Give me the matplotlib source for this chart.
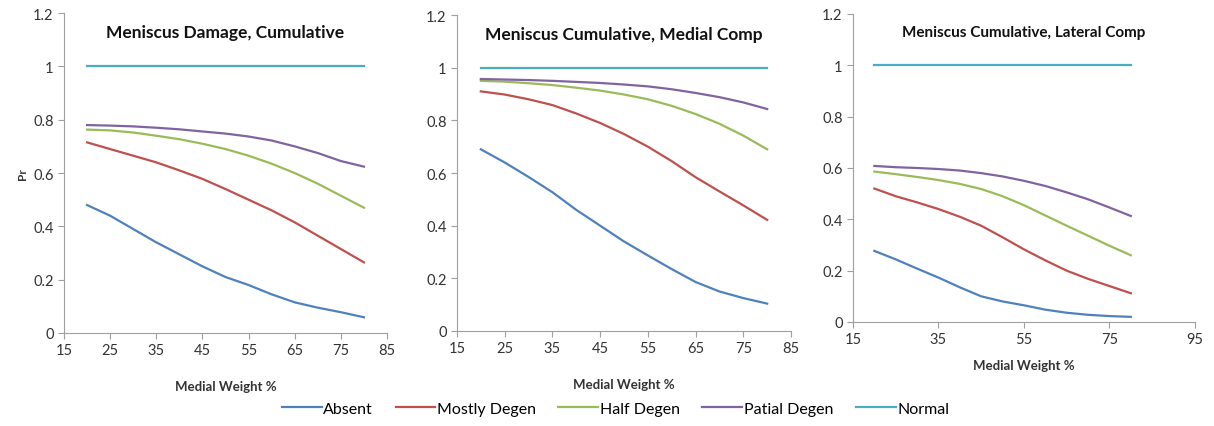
import matplotlib
matplotlib.use('Agg')
import matplotlib.pyplot as plt

# Medial weight % sampled along each curve
weight = [20, 25, 30, 35, 40, 45, 50, 55, 60, 65, 70, 75, 80]

series_names = ['Absent', 'Mostly Degen', 'Half Degen', 'Patial Degen', 'Normal']
colors = ['#4F81BD', '#C0504D', '#9BBB59', '#8064A2', '#4BACC6']

# Panel 1: Meniscus Damage, Cumulative
cum_absent = [.48, .44, .39, .34, .295, .25, .21, .18, .145, .115, .095, .078, .059]
cum_mostly = [.715, .69, .665, .64, .61, .578, .54, .50, .46, .415, .365, .315, .265]
cum_half = [.763, .76, .752, .74, .727, .71, .69, .665, .635, .60, .56, .515, .47]
cum_patial = [.78, .778, .775, .77, .764, .756, .748, .737, .722, .70, .675, .645, .624]

# Panel 2: Meniscus Cumulative, Medial Comp
med_absent = [.69, .64, .585, .527, .46, .40, .34, .287, .235, .186, .15, .125, .104]
med_mostly = [.91, .898, .88, .858, .826, .79, .748, .70, .645, .584, .53, .477, .422]
med_half = [.95, .947, .941, .934, .924, .913, .898, .88, .855, .824, .787, .742, .69]
med_patial = [.957, .955, .953, .95, .946, .942, .936, .929, .918, .904, .888, .868, .843]

# Panel 3: Meniscus Cumulative, Lateral Comp
lat_absent = [.277, .244, .208, .173, .135, .10, .08, .065, .048, .036, .028, .023, .02]
lat_mostly = [.52, .49, .466, .44, .41, .375, .33, .283, .24, .20, .168, .14, .112]
lat_half = [.586, .576, .565, .553, .538, .518, .49, .455, .415, .375, .336, .297, .26]
lat_patial = [.608, .603, .60, .596, .59, .58, .567, .55, .53, .505, .478, .446, .413]

normal = [1.0] * len(weight)

plt.rcParams['font.family'] = ['Lato', 'DejaVu Sans']

fig = plt.figure(figsize=(12.14, 4.27), dpi=100)

panels = [
    ('Meniscus Damage, Cumulative', [cum_absent, cum_mostly, cum_half, cum_patial, normal],
     [0.0527, 0.2178, 0.2661, 0.7492], [15, 25, 35, 45, 55, 65, 75, 85], 12.5),
    ('Meniscus Cumulative, Medial Comp', [med_absent, med_mostly, med_half, med_patial, normal],
     [0.3764, 0.2225, 0.2752, 0.7400], [15, 25, 35, 45, 55, 65, 75, 85], 12.5),
    ('Meniscus Cumulative, Lateral Comp', [lat_absent, lat_mostly, lat_half, lat_patial, normal],
     [0.7026, 0.2436, 0.2817, 0.7213], [15, 35, 55, 75, 95], 11),
]

axes = []
for i, (title, data, rect, xt, tsize) in enumerate(panels):
    ax = fig.add_axes(rect)
    for name, ys, c in zip(series_names, data, colors):
        ax.plot(weight, ys, color=c, lw=1.6, label=name)
    ax.set_xlim(xt[0], xt[-1])
    ax.set_ylim(0, 1.2)
    ax.set_xticks(xt)
    ax.set_yticks([0, 0.2, 0.4, 0.6, 0.8, 1.0, 1.2])
    ax.set_yticklabels(['0', '0.2', '0.4', '0.6', '0.8', '1', '1.2'])
    for s in ['top', 'right']:
        ax.spines[s].set_visible(False)
    for s in ['left', 'bottom']:
        ax.spines[s].set_color('#A0A0A0')
    ax.tick_params(colors='#A0A0A0', labelcolor='#333333', labelsize=10.5, length=4)
    ax.text(0.5, 0.965, title, transform=ax.transAxes, ha='center', va='top',
            fontsize=tsize, fontweight='bold', color='#111111')
    ax.set_xlabel('Medial Weight %', fontsize=9.5, fontweight='bold', color='#333333',
                  labelpad=16 if i < 2 else 9)
    axes.append(ax)

axes[0].set_ylabel('Pr', fontsize=8.5, fontweight='bold', color='#333333', labelpad=4)

handles, labels = axes[0].get_legend_handles_labels()
fig.legend(handles, labels, loc='center', bbox_to_anchor=(0.507, 0.04), ncol=5,
           frameon=False, fontsize=11.5, handlelength=2.5, columnspacing=1.4,
           handletextpad=0.1)

fig.savefig('out.png', dpi=100)
